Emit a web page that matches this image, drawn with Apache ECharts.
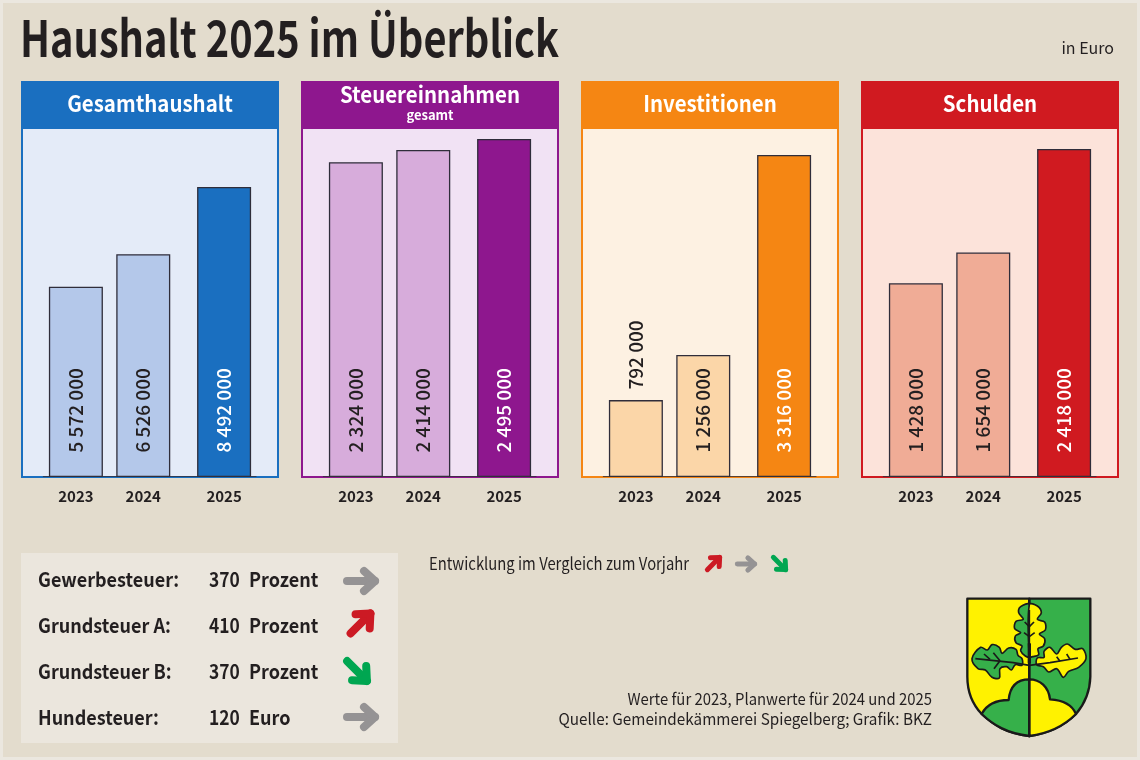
<!DOCTYPE html>
<html>
<head>
<meta charset="utf-8">
<title>Haushalt 2025 im Überblick</title>
<style>
  html, body { margin: 0; padding: 0; background: #ebe7df; }
  #main { width: 1140px; height: 760px; }
</style>
<script src="https://cdn.jsdelivr.net/npm/echarts@6/dist/echarts.min.js"></script>
</head>
<body>
<div id="main"></div>
<script>
var years = ['2023', '2024', '2025'];
// x slots of the three bars, the last bar sits a bit further away
var yearSlots = [0, 5, 11];

var panelNames = ['Gesamthaushalt', 'Steuereinnahmen', 'Investitionen', 'Schulden'];
var gesamthaushalt = [5572000, 6526000, 8492000];
var steuereinnahmen = [2324000, 2414000, 2495000];
var investitionen = [792000, 1256000, 3316000];
var schulden = [1428000, 1654000, 2418000];
var panelValues = [gesamthaushalt, steuereinnahmen, investitionen, schulden];
var panelMax = [10220000, 2576000, 3594000, 2572000];

var strongColors = ['#1a6fc0', '#8e178e', '#f58613', '#d01a20'];
var lightColors = ['#b4c8ea', '#d7acdb', '#fbd6a8', '#f0ac96'];
var paleColors = ['#e4ebf8', '#f1e2f4', '#fdf1e2', '#fce3da'];

var taxNames = ['Gewerbesteuer:', 'Grundsteuer A:', 'Grundsteuer B:', 'Hundesteuer:'];
var taxRates = ['370', '410', '370', '120'];
var taxUnits = ['Prozent', 'Prozent', 'Prozent', 'Euro'];

var FONT = '"Noto Sans CJK SC", "Noto Sans", sans-serif';
var INK = '#231f20';
var GREY = '#959394';
var RED = '#cc1a24';
var GREEN = '#00a651';

function formatNumber(v) {
  return String(v).replace(/\B(?=(\d{3})+$)/g, ' ');
}

function text(x, y, str, size, weight, align, color, squeeze) {
  return {
    type: 'text',
    x: x,
    y: y,
    scaleX: squeeze || 1,
    style: {
      text: str,
      fontFamily: FONT,
      fontSize: size,
      fontWeight: weight,
      fill: color || INK,
      align: align || 'left',
      verticalAlign: 'middle'
    }
  };
}

function arrow(x, y, rotation, color, scale) {
  var line = {
    stroke: color,
    fill: null,
    lineWidth: 8,
    lineCap: 'round',
    lineJoin: 'round'
  };
  return {
    type: 'group',
    x: x,
    y: y,
    rotation: rotation,
    scaleX: scale,
    scaleY: scale,
    children: [
      { type: 'polyline', shape: { points: [[-14, 0], [14, 0]] }, style: line },
      { type: 'polyline', shape: { points: [[3, -10], [14, 0], [3, 10]] }, style: line }
    ]
  };
}

echarts.graphic.registerShape('shieldLeft', echarts.graphic.extendPath('M52,26 L238,26 L238,438 C170,430 130,405 95,372 C65,340 52,300 52,260 Z', {}));
echarts.graphic.registerShape('shieldRight', echarts.graphic.extendPath('M238,26 L421,26 L421,260 C420,300 405,340 378,372 C345,405 300,430 238,438 Z', {}));
echarts.graphic.registerShape('hillLeft', echarts.graphic.extendPath('M238,268 C205,268 180,285 176,330 C145,330 112,340 95,372 C130,405 170,430 238,438 Z', {}));
echarts.graphic.registerShape('hillRight', echarts.graphic.extendPath('M238,268 C270,268 296,290 300,328 C330,330 365,340 378,372 C345,405 300,430 238,438 Z', {}));

// coat of arms, coordinates in a 480x480 box
function crest() {
  var thin = { stroke: '#1a1a1a', lineWidth: 5, lineJoin: 'round', fill: null };
  var yellow = '#fff200';
  var green = '#36b04a';
  function part(type, fill) {
    return { type: type, shape: {}, style: { fill: fill, stroke: '#1a1a1a', lineWidth: 7, lineJoin: 'round' } };
  }
  function poly(points, fill) {
    return { type: 'polygon', shape: { points: points, smooth: 0.35 }, style: Object.assign({}, thin, { fill: fill }) };
  }
  function vein(points) {
    return { type: 'polyline', shape: { points: points }, style: thin };
  }
  return {
    type: 'group',
    x: 950,
    y: 590,
    scaleX: 1 / 3,
    scaleY: 1 / 3,
    children: [
      part('shieldLeft', yellow),
      part('shieldRight', green),
      // the two hills under the leaves
      part('hillLeft', green),
      part('hillRight', yellow),
      { type: 'polyline', shape: { points: [[238, 26], [238, 438]] }, style: { stroke: '#1a1a1a', lineWidth: 6, fill: null } },
      // top leaf, left half green and right half yellow
      poly([[238, 44], [212, 50], [206, 68], [220, 88], [198, 94], [194, 116], [212, 128], [196, 138], [198, 158], [216, 168], [212, 182], [226, 198], [238, 200]], green),
      poly([[238, 44], [262, 48], [274, 68], [262, 88], [284, 96], [286, 120], [268, 132], [284, 146], [280, 168], [264, 176], [266, 194], [248, 200], [238, 200]], yellow),
      // left leaf
      poly([[216, 226], [196, 224], [184, 240], [170, 230], [150, 236], [148, 264], [126, 262], [106, 240], [84, 236], [66, 206], [92, 172], [112, 180], [126, 164], [148, 172], [156, 190], [176, 174], [198, 178], [204, 196], [216, 206]], green),
      // right leaf
      poly([[260, 224], [280, 230], [296, 246], [320, 236], [340, 262], [356, 244], [386, 232], [408, 206], [398, 176], [376, 178], [352, 162], [334, 172], [320, 192], [300, 172], [282, 184], [282, 202], [262, 204]], yellow),
      vein([[238, 226], [190, 218], [76, 206]]),
      vein([[120, 208], [102, 192]]), vein([[150, 212], [130, 188]]), vein([[150, 212], [132, 236]]),
      vein([[238, 226], [300, 218], [384, 204]]),
      vein([[330, 214], [320, 200]]), vein([[360, 208], [350, 192]]),
      vein([[238, 60], [238, 226]]),
      vein([[238, 110], [224, 96]]), vein([[238, 140], [222, 128]]), vein([[238, 110], [252, 96]]), vein([[238, 140], [254, 128]]),
      { type: 'rect', shape: { x: 233, y: 160, width: 10, height: 60 }, style: { fill: '#1a1a1a' } }
    ]
  };
}

function initChart() {
  var chart = echarts.init(document.getElementById('main'));

  var grids = [], xAxes = [], yAxes = [], series = [];
  var graphics = [
    // lighter rim around the picture
    { type: 'rect', shape: { x: 1.5, y: 1.5, width: 1137, height: 757 }, style: { fill: null, stroke: '#ebe7df', lineWidth: 3 } },
    { type: 'rect', shape: { x: 21, y: 553, width: 377, height: 190 }, style: { fill: '#ebe6dd' } },
    text(20, 38, 'Haushalt 2025 im Überblick', 50, 'bold', 'left', INK, 0.795),
    text(1114, 48, 'in Euro', 16, 'normal', 'right'),
    text(429, 564, 'Entwicklung im Vergleich zum Vorjahr', 17, 'normal', 'left', INK, 0.872),
    text(932, 699, 'Werte für 2023, Planwerte für 2024 und 2025', 16, 'normal', 'right', INK, 0.93),
    text(932, 719, 'Quelle: Gemeindekämmerei Spiegelberg; Grafik: BKZ', 16, 'normal', 'right', INK, 0.954),
    arrow(713.5, 563.5, Math.PI / 4, RED, 0.62),
    arrow(746, 564, 0, GREY, 0.62),
    arrow(779.5, 563.5, -Math.PI / 4, GREEN, 0.62),
    crest()
  ];

  panelNames.forEach(function (name, i) {
    var left = 21 + i * 280;
    grids.push({
      left: left + 1,
      top: 128,
      width: 256,
      height: 349,
      show: true,
      backgroundColor: paleColors[i],
      borderColor: strongColors[i],
      borderWidth: 2
    });
    xAxes.push({
      type: 'value',
      gridIndex: i,
      min: -4,
      max: 15,
      splitLine: { show: false },
      axisLine: { show: false },
      axisTick: { show: false },
      axisLabel: {
        customValues: yearSlots,
        margin: 12,
        fontFamily: FONT,
        fontSize: 15,
        fontWeight: 'bold',
        color: INK,
        formatter: function (v) {
          return years[yearSlots.indexOf(v)];
        }
      }
    });
    yAxes.push({ type: 'value', gridIndex: i, min: 0, max: panelMax[i], show: false });

    series.push({
      type: 'bar',
      xAxisIndex: i,
      yAxisIndex: i,
      barWidth: 54,
      // dark hairline on the floor of the panel, between the bars
      markLine: {
        silent: true,
        symbol: 'none',
        label: { show: false },
        lineStyle: { color: '#33303a', width: 1, type: 'solid', opacity: 0.8 },
        data: [[
          { coord: [-2.45, panelMax[i] / 349] },
          { coord: [13.4, panelMax[i] / 349] }
        ]]
      },
      data: panelValues[i].map(function (v, k) {
        var outside = v === 792000;
        return {
          value: [yearSlots[k], v],
          itemStyle: {
            color: k === 2 ? strongColors[i] : lightColors[i],
            borderColor: '#2f2d3a',
            borderWidth: 1.3
          },
          label: {
            show: true,
            rotate: 90,
            align: 'left',
            verticalAlign: 'middle',
            position: outside ? 'top' : 'insideBottom',
            distance: outside ? 12 : 26,
            offset: [-1.5, 0],
            fontFamily: FONT,
            fontSize: 19,
            fontWeight: 500,
            color: k === 2 ? '#ffffff' : INK,
            formatter: function () {
              return formatNumber(v);
            }
          }
        };
      })
    });

    graphics.push({
      type: 'rect',
      shape: { x: left, y: 81, width: 258, height: 47 },
      style: { fill: strongColors[i] }
    });
    graphics.push(text(left + 129, i === 1 ? 95 : 104, name, 22, 'bold', 'center', '#ffffff', 0.93));
  });

  graphics.push(text(430, 115, 'gesamt', 13, 'bold', 'center', '#ffffff'));

  var rowY = [579, 625, 671, 717];
  taxNames.forEach(function (name, i) {
    graphics.push(text(38, rowY[i], name, 20, 'bold', 'left', INK, 0.9));
    graphics.push(text(209, rowY[i], taxRates[i], 20, 'bold', 'left', INK, 0.87));
    graphics.push(text(249, rowY[i], taxUnits[i], 20, 'bold', 'left', INK, 0.9));
  });
  graphics.push(arrow(361, 581, 0, GREY, 1));
  graphics.push(arrow(360.5, 623.5, Math.PI / 4, RED, 1));
  graphics.push(arrow(357, 671, -Math.PI / 4, GREEN, 1));
  graphics.push(arrow(361, 717, 0, GREY, 1));

  chart.setOption({
    animation: false,
    backgroundColor: '#e3dccd',
    graphic: graphics,
    grid: grids,
    xAxis: xAxes,
    yAxis: yAxes,
    series: series
  });
}

initChart();
</script>
</body>
</html>
